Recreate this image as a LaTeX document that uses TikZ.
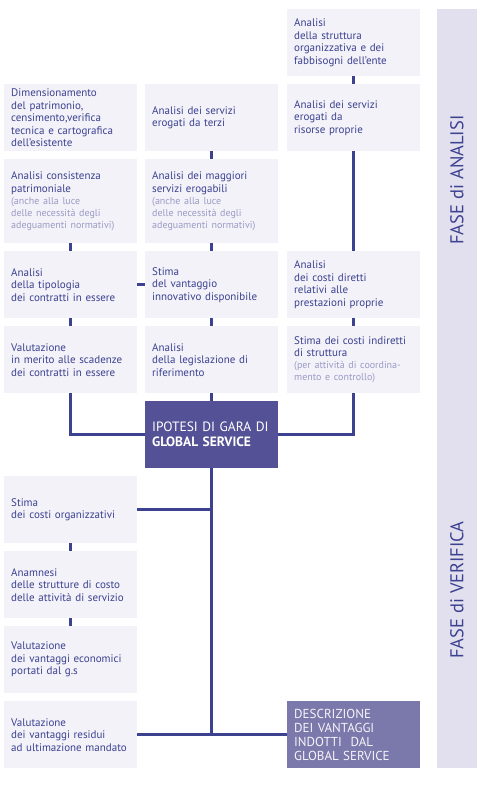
\documentclass[tikz,border=0pt]{standalone}
\usepackage{fontspec}
\setmainfont{PT Sans}
\usetikzlibrary{positioning}
\definecolor{navy}{HTML}{3C4190}
\definecolor{boxfill}{HTML}{F2F2F8}
\definecolor{barfill}{HTML}{E2E0EE}
\definecolor{hypfill}{HTML}{545196}
\definecolor{descfill}{HTML}{7B78AB}
\definecolor{notegray}{HTML}{9C9AC6}
\newcommand{\nota}[1]{{\fontsize{10}{12}\selectfont\color{notegray}#1\par}}

\begin{document}
\begin{tikzpicture}[
  x=1pt, y=-1pt,
  every node/.style={font=\fontsize{11}{12.5}\selectfont},
  box/.style={rectangle, fill=boxfill, text=navy, anchor=north west, text width=119pt, inner xsep=7pt, inner ysep=0pt, minimum height=67pt, align=left},
  tallbox/.style={box, minimum height=84pt},
  hyp/.style={box, fill=hypfill, text=white, font=\fontsize{13.5}{15}\selectfont},
  desc/.style={box, fill=descfill, text=white!92!descfill, font=\fontsize{13}{14}\selectfont},
  link/.style={draw=navy, line width=3pt},
  fase/.style={rotate=90, text=navy, font=\fontsize{18.5}{20}\selectfont}
]
\useasboundingbox (0,0) rectangle (480,800);

% Side bar
\fill[barfill] (437,9) rectangle (477,768);
\node[fase] (analisi) at (457,180) {FASE di ANALISI};
\node[fase] (verifica) at (457,590) {FASE di VERIFICA};

% Column 1
\node[box] (dimens) at (4,84) {Dimensionamento\\del patrimonio,\\censimento,verifica\\tecnica e cartografica\\dell’esistente};
\node[tallbox] (consistenza) at (4,159) {Analisi consistenza\\patrimoniale\par\nota{(anche alla luce\\delle necessità degli\\adeguamenti normativi)}};
\node[box] (tipologia) at (4,251) {Analisi\\della tipologia\\dei contratti in essere};
\node[box] (scadenze) at (4,326) {Valutazione\\in merito alle scadenze\\dei contratti in essere};

% Column 2
\node[box] (terzi) at (145,84) {Analisi dei servizi\\erogati da terzi};
\node[tallbox] (maggiori) at (145,159) {Analisi dei maggiori\\servizi erogabili\par\nota{(anche alla luce\\delle necessità degli\\adeguamenti normativi)}};
\node[box] (vantaggio) at (145,251) {Stima\\del vantaggio\\innovativo disponibile};
\node[box] (legislazione) at (145,326) {Analisi\\della legislazione di\\riferimento};
\node[hyp] (ipotesi) at (145,401) {IPOTESI DI GARA DI\\\textbf{GLOBAL SERVICE}};

% Column 3
\node[box] (struttura) at (287,9) {Analisi\\della struttura\\organizzativa e dei\\fabbisogni dell’ente};
\node[box] (risorse) at (287,84) {Analisi dei servizi\\erogati da\\risorse proprie};
\node[box] (diretti) at (287,251) {Analisi\\dei costi diretti\\relativi alle\\prestazioni proprie};
\node[box] (indiretti) at (287,326) {Stima dei costi indiretti\\di struttura\par\nota{(per attività di coordina-\\mento e controllo)}};

% Verifica
\node[box] (organizzativi) at (4,476) {Stima\\dei costi organizzativi};
\node[box] (anamnesi) at (4,551) {Anamnesi\\delle strutture di costo\\delle attività di servizio};
\node[box] (economici) at (4,626) {Valutazione\\dei vantaggi economici\\portati dal g.s};
\node[box] (residui) at (4,701) {Valutazione\\dei vantaggi residui\\ad ultimazione mandato};
\node[desc] (descrizione) at (287,701) {DESCRIZIONE\\DEI VANTAGGI\\INDOTTI\ \ DAL\\GLOBAL SERVICE};

% Links
\draw[link] (consistenza) -- (tipologia);
\draw[link] (tipologia) -- (scadenze);
\draw[link] (tipologia) -- (vantaggio);
\draw[link] (terzi) -- (maggiori);
\draw[link] (maggiori) -- (vantaggio);
\draw[link] (vantaggio) -- (legislazione);
\draw[link] (legislazione) -- (ipotesi);
\draw[link] (struttura) -- (risorse);
\draw[link] (risorse) -- (diretti);
\draw[link] (diretti) -- (indiretti);
\draw[link] (scadenze) |- (ipotesi);
\draw[link] (indiretti) |- (ipotesi);
\draw[link] (ipotesi) |- (descrizione);
\draw[link] (residui) -- (descrizione);
\draw[link] (organizzativi) -- (organizzativi -| ipotesi);
\draw[link] (organizzativi) -- (anamnesi);
\draw[link] (anamnesi) -- (economici);

\end{tikzpicture}
\end{document}
